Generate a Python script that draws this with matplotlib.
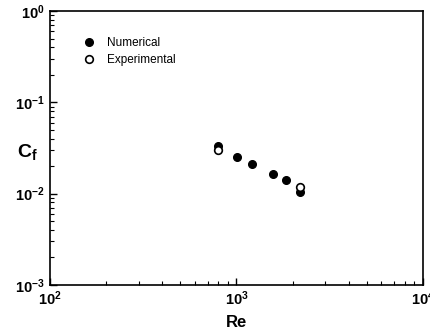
import matplotlib
matplotlib.use('Agg')
from matplotlib import pyplot as plt
from matplotlib.ticker import LogLocator, NullFormatter

plt.rcParams['font.family'] = ['Liberation Sans', 'DejaVu Sans']
plt.rcParams['mathtext.fontset'] = 'custom'
plt.rcParams['mathtext.rm'] = 'Liberation Sans'
plt.rcParams['mathtext.it'] = 'Liberation Sans:italic'
plt.rcParams['mathtext.bf'] = 'Liberation Sans:bold'

re_num = [800, 1010, 1215, 1565, 1840, 2185]
cf_num = [0.0336, 0.0251, 0.0212, 0.0163, 0.0140, 0.0104]
re_exp = [800, 2185]
cf_exp = [0.0301, 0.0117]

fig = plt.figure(figsize=(4.31, 3.36), dpi=100)
ax = fig.add_axes([0.116, 0.152, 0.865, 0.815])

ax.plot(re_num, cf_num, 'o', color='black', markersize=5.5, label='Numerical')
ax.plot(re_exp, cf_exp, 'o', markerfacecolor='white', markeredgecolor='black',
        markeredgewidth=1.2, markersize=5.5, label='Experimental')

ax.set_xscale('log')
ax.set_yscale('log')
ax.set_xlim(1e2, 1e4)
ax.set_ylim(1e-3, 1e0)

ax.xaxis.set_minor_locator(LogLocator(base=10, subs=range(2, 10)))
ax.yaxis.set_minor_locator(LogLocator(base=10, subs=range(2, 10)))
ax.xaxis.set_minor_formatter(NullFormatter())
ax.yaxis.set_minor_formatter(NullFormatter())
ax.tick_params(which='both', direction='in', labelsize=10.5)
ax.tick_params(which='major', length=5, width=1)
ax.tick_params(which='minor', length=3, width=0.8)
for lab in ax.get_xticklabels() + ax.get_yticklabels():
    lab.set_fontweight('bold')
for s in ax.spines.values():
    s.set_linewidth(1.2)

ax.set_xlabel('Re', fontsize=12, fontweight='bold', labelpad=5)
ax.set_ylabel(r'$\mathbf{C_f}$', fontsize=14, rotation=0)
ax.yaxis.set_label_coords(-0.06, 0.45)

ax.legend(loc='upper left', bbox_to_anchor=(0.045, 0.945), frameon=False,
          fontsize=8.5, handletextpad=0.5, labelspacing=0.45)

fig.savefig('out.png', dpi=100)
